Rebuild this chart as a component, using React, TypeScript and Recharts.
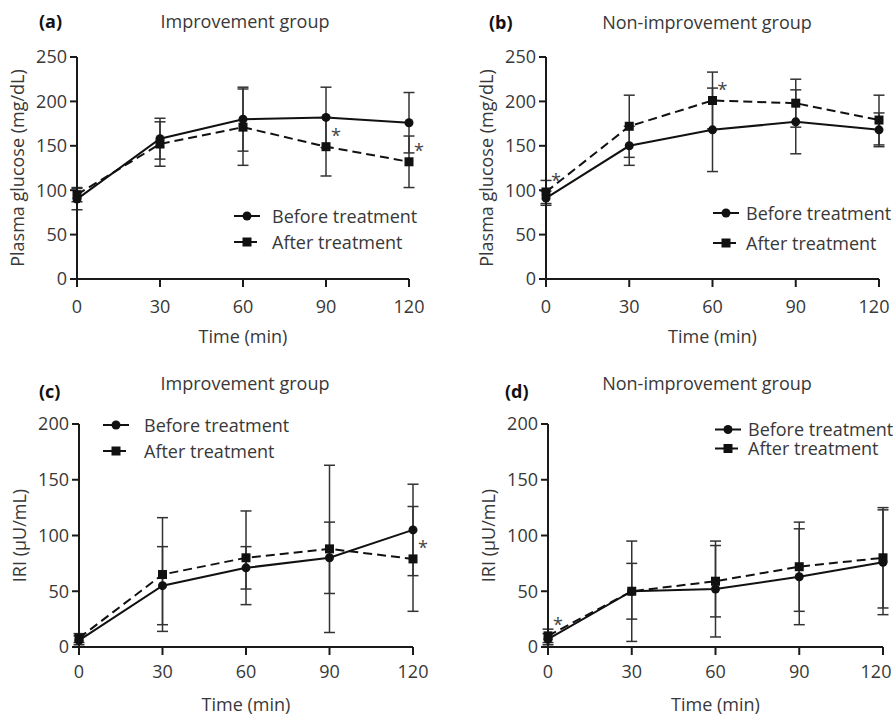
import { LineChart, Line, XAxis, YAxis, ErrorBar, Legend, LabelList } from 'recharts';

const TIMES = [0, 30, 60, 90, 120];
const LEGEND_NAMES = ['Before treatment', 'After treatment'];

// (a) plasma glucose, improvement group
const glucImpBefore = [90, 158, 180, 182, 176];
const glucImpBeforeSd = [12, 23, 36, 34, 34];
const glucImpAfter = [95, 152, 171, 149, 132];
const glucImpAfterSd = [8, 25, 43, 33, 29];
const glucImpSig = ['', '', '', '*', '*'];

// (b) plasma glucose, non-improvement group
const glucNonBefore = [91, 150, 168, 177, 168];
const glucNonBeforeSd = [8, 22, 47, 36, 19];
const glucNonAfter = [98, 172, 201, 198, 179];
const glucNonAfterSd = [13, 35, 32, 27, 28];
const glucNonSig = ['*', '', '*', '', ''];

// (c) IRI, improvement group
const iriImpBefore = [6, 55, 71, 80, 105];
const iriImpBeforeSd = [4, 35, 19, 32, 41];
const iriImpAfter = [8, 65, 80, 88, 79];
const iriImpAfterSd = [4, 51, 42, 75, 47];
const iriImpSig = ['', '', '', '', '*'];

// (d) IRI, non-improvement group
const iriNonBefore = [7, 50, 52, 63, 76];
const iriNonBeforeSd = [5, 45, 43, 43, 47];
const iriNonAfter = [10, 50, 59, 72, 80];
const iriNonAfterSd = [6, 25, 32, 40, 45];
const iriNonSig = ['*', '', '', '', ''];

const GLUC_TICKS = [0, 50, 100, 150, 200, 250];
const IRI_TICKS = [0, 50, 100, 150, 200];

const FONT = '"Open Sans", sans-serif';
const AX = '#1a1a1a';
const TXT = '#383838';

const build = (b: number[], bs: number[], a: number[], as: number[], sig: string[]) =>
  TIMES.map((t, i) => ({ time: t, before: b[i], beforeSd: bs[i], after: a[i], afterSd: as[i], sig: sig[i] }));

const CircleDot = (p: any) =>
  p.cx == null ? null : <circle key={`c${p.index}`} cx={p.cx} cy={p.cy} r={4.5} fill="#111" />;
const SquareDot = (p: any) =>
  p.cx == null ? null : <rect key={`s${p.index}`} x={p.cx - 4.5} y={p.cy - 4.5} width={9} height={9} fill="#111" />;

const Star = (p: any) =>
  p.value ? (
    <text x={p.x + 10} y={p.y - 5} textAnchor="middle" fontSize={18} fontFamily={FONT} fill="#444">
      {p.value}
    </text>
  ) : null;

// x tick with the last label nudged inwards where it would hit the page edge
const XTick = (p: any) => {
  const v = p.payload.value;
  const dx = v === 120 ? p.lastShift : 0;
  return (
    <text x={p.x + dx} y={p.y} dy="0.71em" textAnchor="middle" fontSize={18} fontFamily={FONT} fill={TXT}>
      {v}
    </text>
  );
};

const xLabel = (p: any) => {
  const vb = p.viewBox;
  return (
    <text x={vb.x + vb.width / 2} y={vb.y + 64} textAnchor="middle" fontSize={18} fontFamily={FONT} fill={TXT}>
      Time (min)
    </text>
  );
};

const yLabel = (text: string) => (p: any) => {
  const vb = p.viewBox;
  const x = vb.x + vb.width - 60;
  const y = vb.y + vb.height / 2;
  return (
    <text x={x} y={y} transform={`rotate(-90 ${x} ${y})`} textAnchor="middle" dominantBaseline="central"
      fontSize={18} fontFamily={FONT} fill={TXT}>
      {text}
    </text>
  );
};

const legendContent = (sw: number, rowH: number) => () => (
  <div style={{ fontFamily: FONT, fontSize: 18, color: TXT }}>
    {LEGEND_NAMES.map((name, i) => (
      <div key={name} style={{ display: 'flex', alignItems: 'center', height: rowH }}>
        <svg width={sw} height={rowH} style={{ flex: 'none' }}>
          <line x1={0} x2={26} y1={rowH / 2} y2={rowH / 2} stroke="#111" strokeWidth={2}
            strokeDasharray={i === 1 ? '10 3' : undefined} />
          {i === 0 ? (
            <circle cx={13} cy={rowH / 2} r={4.5} fill="#111" />
          ) : (
            <rect x={8.5} y={rowH / 2 - 4.5} width={9} height={9} fill="#111" />
          )}
        </svg>
        <span style={{ display: 'block', whiteSpace: 'nowrap', height: rowH, lineHeight: `${rowH}px`, overflow: 'visible' }}>
          {name}
        </span>
      </div>
    ))}
  </div>
);

type PanelCfg = {
  left: number; top: number; width: number; height: number;
  margin: { top: number; right: number; left: number; bottom: number };
  data: any[]; yMax: number; yTicks: number[]; yText: string; tickMargin: number; lastShift: number;
  legend: { left: number; top: number; sw: number; rowH: number };
};

function Panel({ c }: { c: PanelCfg }) {
  return (
    <div style={{ position: 'absolute', left: c.left, top: c.top }}>
      <LineChart width={c.width} height={c.height} data={c.data} margin={c.margin}>
        <XAxis type="number" dataKey="time" domain={[0, 120]} ticks={TIMES} interval={0} height={40}
          tickSize={8} tickMargin={c.tickMargin} tick={(p: any) => <XTick {...p} lastShift={c.lastShift} />}
          axisLine={{ stroke: AX, strokeWidth: 2 }} tickLine={{ stroke: AX, strokeWidth: 2 }} label={xLabel} />
        <YAxis type="number" domain={[0, c.yMax]} ticks={c.yTicks} interval={0} width={60}
          tickSize={7} tickMargin={3} tick={{ fill: TXT, fontSize: 18, fontFamily: FONT }}
          axisLine={{ stroke: AX, strokeWidth: 2 }} tickLine={{ stroke: AX, strokeWidth: 2 }} label={yLabel(c.yText)} />
        <Legend layout="vertical" align="center" verticalAlign="middle"
          wrapperStyle={{ left: c.legend.left, top: c.legend.top, width: 'auto', bottom: 'auto' }}
          content={legendContent(c.legend.sw, c.legend.rowH)} />
        <Line type="linear" dataKey="before" stroke="#111" strokeWidth={2} dot={CircleDot} activeDot={false}
          isAnimationActive={false}>
          <ErrorBar dataKey="beforeSd" direction="y" width={5.5} stroke="#333" strokeWidth={1.5} isAnimationActive={false} />
        </Line>
        <Line type="linear" dataKey="after" stroke="#111" strokeWidth={2} strokeDasharray="9 5" dot={SquareDot}
          activeDot={false} isAnimationActive={false}>
          <ErrorBar dataKey="afterSd" direction="y" width={5.5} stroke="#333" strokeWidth={1.5} isAnimationActive={false} />
          <LabelList dataKey="sig" content={Star} />
        </Line>
      </LineChart>
    </div>
  );
}

const PANELS: PanelCfg[] = [
  {
    left: 0, top: 0, width: 446, height: 357, margin: { top: 57, right: 37, left: 17, bottom: 38 },
    data: build(glucImpBefore, glucImpBeforeSd, glucImpAfter, glucImpAfterSd, glucImpSig),
    yMax: 250, yTicks: GLUC_TICKS, yText: 'Plasma glucose (mg/dL)', tickMargin: 13, lastShift: 0,
    legend: { left: 234, top: 203, sw: 38, rowH: 26 },
  },
  {
    left: 446, top: 0, width: 447, height: 357, margin: { top: 57, right: 14, left: 40, bottom: 38 },
    data: build(glucNonBefore, glucNonBeforeSd, glucNonAfter, glucNonAfterSd, glucNonSig),
    yMax: 250, yTicks: GLUC_TICKS, yText: 'Plasma glucose (mg/dL)', tickMargin: 13, lastShift: -5,
    legend: { left: 267, top: 198, sw: 33, rowH: 30 },
  },
  {
    left: 0, top: 357, width: 446, height: 358, margin: { top: 67, right: 33, left: 19, bottom: 28 },
    data: build(iriImpBefore, iriImpBeforeSd, iriImpAfter, iriImpAfterSd, iriImpSig),
    yMax: 200, yTicks: IRI_TICKS, yText: 'IRI (μU/mL)', tickMargin: 10, lastShift: 0,
    legend: { left: 103, top: 55, sw: 41, rowH: 26 },
  },
  {
    left: 446, top: 357, width: 447, height: 358, margin: { top: 67, right: 10, left: 42, bottom: 28 },
    data: build(iriNonBefore, iriNonBeforeSd, iriNonAfter, iriNonAfterSd, iriNonSig),
    yMax: 200, yTicks: IRI_TICKS, yText: 'IRI (μU/mL)', tickMargin: 10, lastShift: -7,
    legend: { left: 269, top: 63, sw: 33, rowH: 19 },
  },
];

const TITLES = [
  { tag: '(a)', title: 'Improvement group', tagX: 39, titleX: 245, tagY: 28, titleY: 28 },
  { tag: '(b)', title: 'Non-improvement group', tagX: 489, titleX: 707, tagY: 29, titleY: 29 },
  { tag: '(c)', title: 'Improvement group', tagX: 39, titleX: 245, tagY: 398, titleY: 390 },
  { tag: '(d)', title: 'Non-improvement group', tagX: 505, titleX: 707, tagY: 398, titleY: 390 },
];

export default function App() {
  return (
    <div style={{ position: 'absolute', left: 0, top: 0, width: 893, height: 715, background: '#fff', overflow: 'hidden' }}>
      {PANELS.map((c, i) => (
        <Panel key={i} c={c} />
      ))}
      <svg width={893} height={715} style={{ position: 'absolute', left: 0, top: 0, pointerEvents: 'none' }}>
        {TITLES.map((t) => (
          <g key={t.tag} fontFamily={FONT} fontSize={18}>
            <text x={t.tagX} y={t.tagY} fontWeight="bold" fill="#111">{t.tag}</text>
            <text x={t.titleX} y={t.titleY} textAnchor="middle" fill={TXT}>{t.title}</text>
          </g>
        ))}
      </svg>
    </div>
  );
}
